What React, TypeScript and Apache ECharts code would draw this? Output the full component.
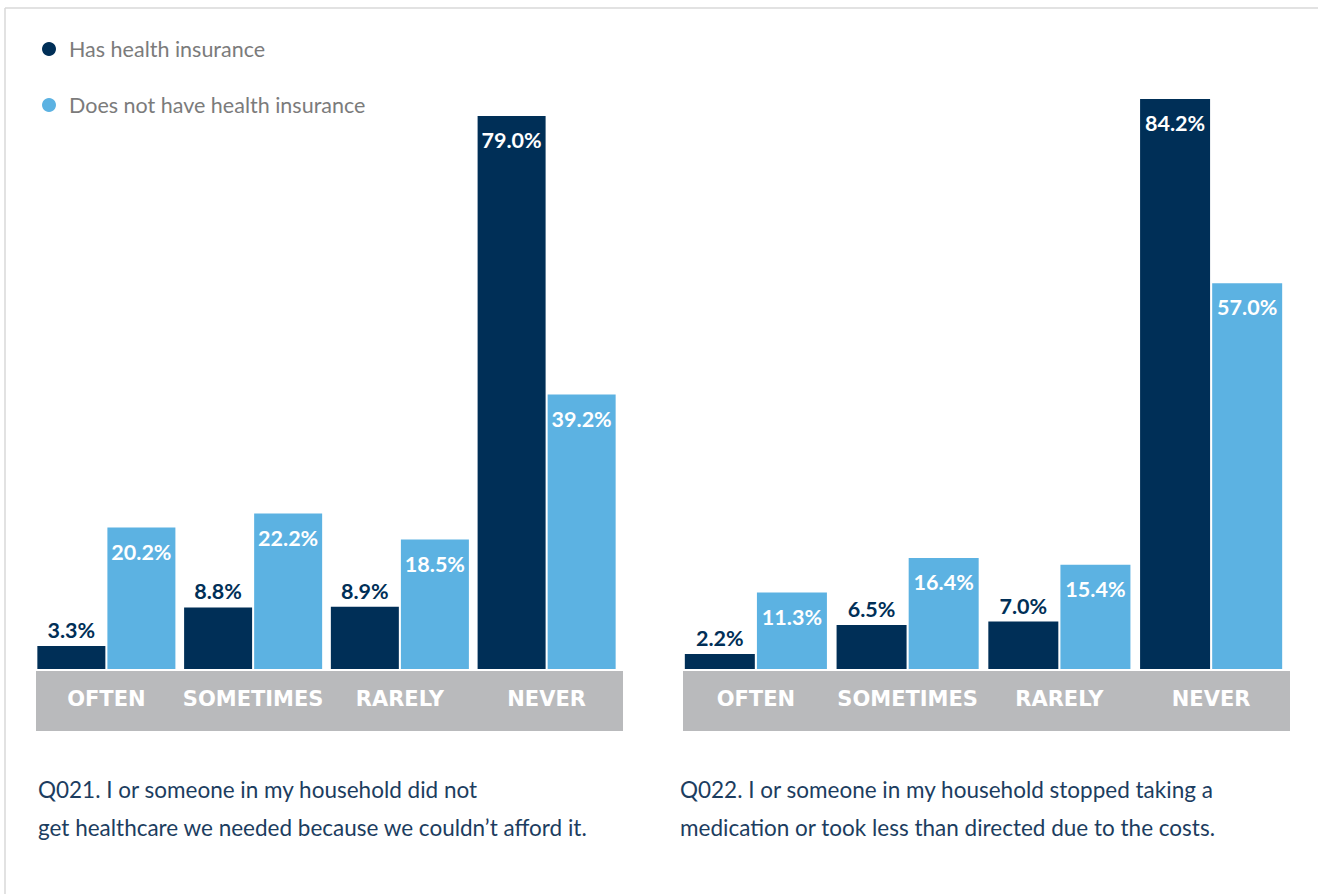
import React, { useEffect, useRef } from "react";
import * as echarts from "echarts";

const categories = ["OFTEN", "SOMETIMES", "RARELY", "NEVER"];
const seriesNames = ["Has health insurance", "Does not have health insurance"];
// Q021
const q21Insured = [3.3, 8.8, 8.9, 79.0];
const q21Uninsured = [20.2, 22.2, 18.5, 39.2];
// Q022
const q22Insured = [2.2, 6.5, 7.0, 84.2];
const q22Uninsured = [11.3, 16.4, 15.4, 57.0];
const captions = [
  "Q021. I or someone in my household did not\nget healthcare we needed because we couldn\u2019t afford it.",
  "Q022. I or someone in my household stopped taking a\nmedication or took less than directed due to the costs.",
];

const NAVY = "#002f57";
const BLUE = "#5cb2e2";
const BAND = "#b9babc";

const labelFont = { fontFamily: "Lato", fontWeight: "bold" as const, fontSize: 21.5, lineHeight: 22 };

function barData(values: number[], dark: boolean) {
  return values.map((v) => {
    const inside = !dark || v > 30;
    return {
      value: v,
      label: {
        show: true,
        position: inside ? "insideTop" : "top",
        distance: inside ? 13 : 5,
        color: inside ? "#ffffff" : NAVY,
        ...labelFont,
        formatter: (p: any) => Number(p.value).toFixed(1) + "%",
      },
    };
  });
}

export default function App() {
  const ref = useRef<HTMLDivElement>(null);
  useEffect(() => {
    if (!ref.current) return;
    const chart = echarts.init(ref.current, null, { renderer: "svg" });
    const grids = [
      { left: 33, top: 116, width: 587, height: 553 },
      { left: 680, top: 99, width: 607, height: 570 },
    ];
    const yMax = [Math.max(...q21Insured, ...q21Uninsured), Math.max(...q22Insured, ...q22Uninsured)];
    const xAxisBase = (gi: number) => ({
      type: "category" as const,
      gridIndex: gi,
      data: categories,
      axisLine: { show: false },
      axisTick: { show: false },
      axisLabel: {
        interval: 0,
        color: "#ffffff",
        fontFamily: "DejaVu Sans",
        fontWeight: "bold" as const,
        fontSize: 21,
        lineHeight: 21,
        margin: 19,
      },
    });
    const yAxisBase = (gi: number) => ({
      type: "value" as const,
      gridIndex: gi,
      min: 0,
      max: yMax[gi],
      show: false,
      splitLine: { show: false },
    });
    const bar = (name: string, vals: number[], dark: boolean, gi: number, bw: number) => ({
      type: "bar" as const,
      name,
      xAxisIndex: gi,
      yAxisIndex: gi,
      data: barData(vals, dark),
      barWidth: bw,
      barGap: "3%",
      itemStyle: { color: dark ? NAVY : BLUE },
    });
    chart.setOption({
      animation: false,
      backgroundColor: "#ffffff",
      legend: {
        orient: "vertical",
        left: 37,
        top: 32,
        icon: "circle",
        itemWidth: 14,
        itemHeight: 14,
        itemGap: 32,
        data: seriesNames,
        textStyle: {
          fontFamily: "Lato",
          fontSize: 21.5,
          lineHeight: 24,
          color: "#7b7b7b",
          padding: [0, 0, 0, 8],
        },
      },
      grid: grids,
      xAxis: [xAxisBase(0), xAxisBase(1)],
      yAxis: [yAxisBase(0), yAxisBase(1)],
      series: [
        bar(seriesNames[0], q21Insured, true, 0, 68),
        bar(seriesNames[1], q21Uninsured, false, 0, 68),
        bar(seriesNames[0], q22Insured, true, 1, 70),
        bar(seriesNames[1], q22Uninsured, false, 1, 70),
      ],
      graphic: [
        { type: "line", z: -1, shape: { x1: 5, y1: 8, x2: 1318, y2: 8 }, style: { stroke: "#d9d9d9", lineWidth: 1.5 } },
        { type: "line", z: -1, shape: { x1: 5, y1: 8, x2: 5, y2: 894 }, style: { stroke: "#d9d9d9", lineWidth: 1.5 } },
        { type: "rect", z: -1, shape: { x: 36, y: 671, width: 587, height: 60 }, style: { fill: BAND } },
        { type: "rect", z: -1, shape: { x: 683, y: 671, width: 607, height: 60 }, style: { fill: BAND } },
        {
          type: "text",
          left: 38,
          top: 770,
          style: { text: captions[0], font: "22.5px Lato", lineHeight: 38, fill: "#1c3d60" },
        },
        {
          type: "text",
          left: 680,
          top: 770,
          style: { text: captions[1], font: "22.5px Lato", lineHeight: 38, fill: "#1c3d60" },
        },
      ],
    });
    return () => chart.dispose();
  }, []);
  return (
    <div
      ref={ref}
      style={{ position: "fixed", left: 0, top: 0, width: 1318, height: 894 }}
    />
  );
}
